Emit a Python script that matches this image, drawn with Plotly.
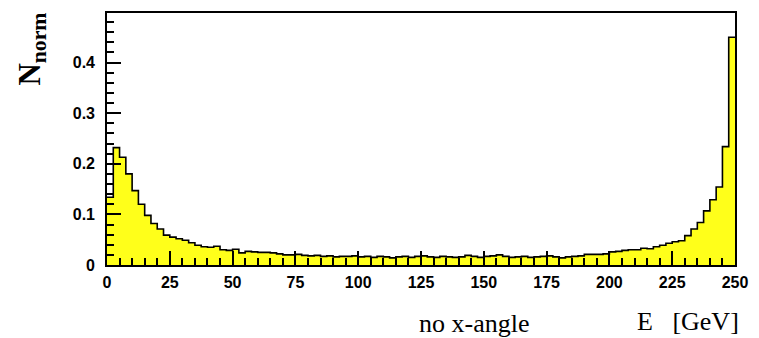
import plotly.graph_objects as go

# Energy spectrum, 100 bins of 2.5 GeV from 0 to 250 GeV (normalised counts)
bin_lo = 0.0
bin_width = 2.5
n_norm = [
    0.134, 0.232, 0.213, 0.180, 0.147, 0.120, 0.098, 0.082, 0.071, 0.059,
    0.055, 0.052, 0.049, 0.044, 0.039, 0.036, 0.035, 0.037, 0.030, 0.029,
    0.031, 0.024, 0.027, 0.026, 0.025, 0.025, 0.024, 0.022, 0.020, 0.020,
    0.021, 0.019, 0.018, 0.019, 0.017, 0.018, 0.016, 0.017, 0.017, 0.018,
    0.016, 0.017, 0.015, 0.017, 0.016, 0.014, 0.016, 0.017, 0.015, 0.017,
    0.018, 0.016, 0.015, 0.017, 0.016, 0.015, 0.016, 0.019, 0.017, 0.015,
    0.017, 0.018, 0.020, 0.017, 0.015, 0.016, 0.017, 0.015, 0.016, 0.017,
    0.018, 0.016, 0.014, 0.016, 0.017, 0.018, 0.021, 0.021, 0.021, 0.022,
    0.026, 0.027, 0.029, 0.030, 0.030, 0.033, 0.032, 0.036, 0.039, 0.043,
    0.046, 0.048, 0.058, 0.071, 0.084, 0.107, 0.129, 0.154, 0.234, 0.450,
]

x_ticks = [0, 25, 50, 75, 100, 125, 150, 175, 200, 225, 250]
x_tick_text = [str(v) for v in x_ticks]
y_ticks = [0, 0.1, 0.2, 0.3, 0.4]
y_tick_text = ["0", "0.1", "0.2", "0.3", "0.4"]

# step outline: left bin edges plus the closing upper edge
edges = [bin_lo + i * bin_width for i in range(len(n_norm) + 1)]
step_y = n_norm + [n_norm[-1]]

fig = go.Figure()
fig.add_trace(go.Scatter(
    x=edges, y=step_y,
    mode="lines",
    line=dict(shape="hv", color="black", width=1.6),
    fill="tozeroy",
    fillcolor="#ffff1a",
    hoverinfo="skip",
))

tick_font = dict(family="Liberation Sans, Arial, sans-serif", size=16,
                 color="black", weight="bold")

fig.update_layout(
    width=759, height=338,
    margin=dict(l=107, r=16, t=11, b=73),
    paper_bgcolor="white", plot_bgcolor="white",
    showlegend=False,
    xaxis=dict(
        range=[0, 250],
        tickvals=x_ticks, ticktext=x_tick_text,
        ticks="inside", ticklen=14, tickwidth=1.5, tickcolor="black",
        minor=dict(dtick=5, ticks="inside", ticklen=7, tickwidth=1.5, tickcolor="black"),
        showline=True, linecolor="black", linewidth=1.6, mirror=True,
        showgrid=False, zeroline=False,
        tickfont=tick_font,
        ticklabelstandoff=2,
    ),
    yaxis=dict(
        range=[0, 0.498],
        tickvals=y_ticks, ticktext=y_tick_text,
        ticks="inside", ticklen=14, tickwidth=1.5, tickcolor="black",
        minor=dict(dtick=0.02, ticks="inside", ticklen=7, tickwidth=1.5, tickcolor="black"),
        showline=True, linecolor="black", linewidth=1.6, mirror=True,
        showgrid=False, zeroline=False,
        tickfont=tick_font,
        ticklabelstandoff=7,
    ),
)

serif = dict(family="Liberation Serif, Times New Roman, serif", color="black")

fig.add_annotation(
    text="N<sub>norm</sub>", textangle=-90,
    xref="paper", yref="paper", x=-0.12, y=1.01,
    xanchor="center", yanchor="top", showarrow=False,
    font=dict(size=31, weight="bold", **serif),
)
fig.add_annotation(
    text="no x-angle",
    xref="paper", yref="paper", x=0.585, y=-0.232,
    xanchor="center", yanchor="middle", showarrow=False,
    font=dict(size=26, **serif),
)
fig.add_annotation(
    text="E   [GeV]",
    xref="paper", yref="paper", x=1.01, y=-0.225,
    xanchor="right", yanchor="middle", showarrow=False,
    font=dict(size=26, **serif),
)

fig.write_html("out.html")
